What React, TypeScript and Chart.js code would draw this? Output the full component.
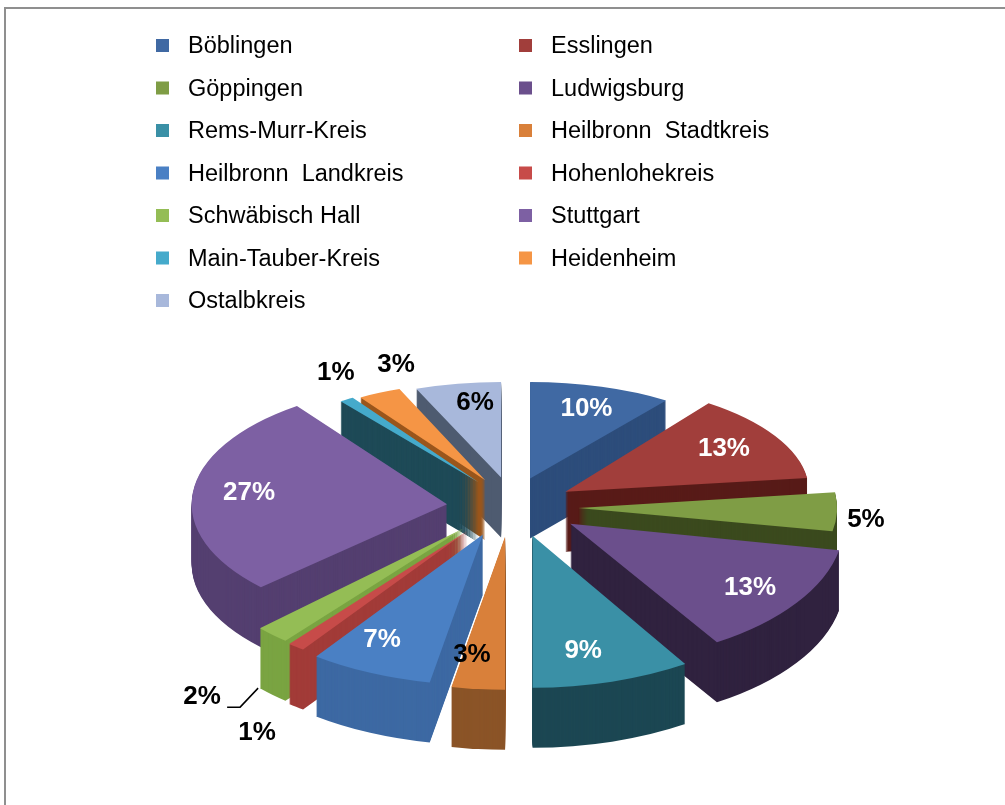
import React, { useEffect, useRef } from 'react';
import { Chart, registerables } from 'chart.js';

Chart.register(...registerables);

// ---- data ----
const categories = [
  'Böblingen',
  'Esslingen',
  'Göppingen',
  'Ludwigsburg',
  'Rems-Murr-Kreis',
  'Heilbronn  Stadtkreis',
  'Heilbronn  Landkreis',
  'Hohenlohekreis',
  'Schwäbisch Hall',
  'Stuttgart',
  'Main-Tauber-Kreis',
  'Heidenheim',
  'Ostalbkreis',
];
const shares = [10, 13, 5, 13, 9, 3, 7, 1, 2, 27, 1, 3, 6];

// ---- styles ----
const topColors = [
  '#4069A3', '#A13E3B', '#7F9D45', '#6B4F8C', '#3A90A6', '#D9803A', '#4A80C4',
  '#C74B49', '#94BD55', '#7D60A3', '#45AACB', '#F59545', '#A8B8DB',
];
const sideColors = [
  '#2D4D7B', '#581B18', '#3B4A1E', '#30223F', '#1C4753', '#8B5427', '#3D69A3',
  '#A23B38', '#7AA442', '#543F70', '#1E4A57', '#9A561C', '#4E5B70',
];
const labelColors = [
  '#FFFFFF', '#FFFFFF', '#000000', '#FFFFFF', '#FFFFFF', '#000000', '#FFFFFF',
  '#000000', '#000000', '#FFFFFF', '#000000', '#000000', '#000000',
];
const labelRadius = [0.776, 0.764, 1.115, 0.796, 0.773, 0.7745, 0.78, 1.221, 1.485, 0.782, 1.258, 1.245, 0.799];
const labelTurn = [0.3, -1.0, 2.8, 0.2, 2.9, 3.2, 3.7, 0.2, -4.1, 2.0, 5.3, 9.1, 2.65];
const labelBelow = [0, 0, 0, 0, 0, 0, 0, 1, 0, 0, 0, 0, 0];
const labelLeader = [0, 0, 0, 0, 0, 0, 0, 0, 1, 0, 0, 0, 0];

// projection of the tilted pie (front slices drawn larger to mimic perspective)
const GEO = {
  cx: 512,
  cy: 507,
  rx: 258,
  ry: 124,
  rxTilt: 28,
  ryTilt: 29,
  explodeX: 66,
  explodeTilt: 0.12,
  explodeY: 30,
  depth: 60,
};
const FONT = '"Liberation Sans", Arial, Helvetica, sans-serif';

function sliceFrame(el: any) {
  const mid = (el.startAngle + el.endAngle) / 2;
  const front = Math.sin(mid);
  return {
    mid,
    rx: GEO.rx + GEO.rxTilt * front,
    ry: GEO.ry + GEO.ryTilt * front,
    ex: GEO.cx + GEO.explodeX * (1 + GEO.explodeTilt * front) * Math.cos(mid),
    ey: GEO.cy + GEO.explodeY * front,
  };
}

const pie3d = {
  id: 'pie3d',
  beforeDatasetsDraw(chart: any) {
    const meta = chart.getDatasetMeta(0);
    const ctx: CanvasRenderingContext2D = chart.ctx;
    const arcs: any[] = meta.data;
    const frames = arcs.map(sliceFrame);
    const order = arcs.map((_, i) => i).sort((a, b) => Math.sin(frames[a].mid) - Math.sin(frames[b].mid));
    for (const i of order) {
      const el = arcs[i];
      const fr = frames[i];
      const sx = fr.rx / el.outerRadius;
      const sy = fr.ry / el.outerRadius;
      const side = Object.create(el);
      side.options = Object.assign({}, el.options, { backgroundColor: sideColors[i], borderWidth: 0 });
      for (let t = GEO.depth; t >= 1; t -= 1) {
        ctx.save();
        ctx.translate(fr.ex, fr.ey + t);
        ctx.scale(sx, sy);
        ctx.translate(-el.x, -el.y);
        side.draw(ctx);
        ctx.restore();
      }
      ctx.save();
      ctx.translate(fr.ex, fr.ey);
      ctx.scale(sx, sy);
      ctx.translate(-el.x, -el.y);
      el.draw(ctx);
      ctx.restore();
    }
    return false;
  },
  afterDraw(chart: any) {
    const ctx: CanvasRenderingContext2D = chart.ctx;
    const meta = chart.getDatasetMeta(0);
    const arcs: any[] = meta.data;
    const total = shares.reduce((a, b) => a + b, 0);

    // frame
    ctx.save();
    ctx.fillStyle = '#8F8F8F';
    ctx.fillRect(4, 7, 2, chart.height);
    ctx.fillRect(4, 7, chart.width, 2);
    ctx.restore();

    // legend
    ctx.save();
    ctx.font = `23.5px ${FONT}`;
    ctx.textBaseline = 'alphabetic';
    ctx.textAlign = 'left';
    categories.forEach((name, i) => {
      const col = i % 2;
      const row = Math.floor(i / 2);
      const x0 = 156 + col * 363;
      const yc = 45.5 + row * 42.5;
      ctx.fillStyle = topColors[i];
      ctx.fillRect(x0, yc - 6.5, 13, 13);
      ctx.fillStyle = '#000';
      ctx.fillText(name, x0 + 32, yc + 7.8);
    });
    ctx.restore();

    // data labels
    ctx.save();
    ctx.font = `bold 26px ${FONT}`;
    ctx.textAlign = 'center';
    ctx.textBaseline = 'middle';
    arcs.forEach((el, i) => {
      const fr = sliceFrame(el);
      const a = fr.mid + (labelTurn[i] * Math.PI) / 180;
      const f = labelRadius[i];
      const x = fr.ex + f * fr.rx * Math.cos(a);
      const y = fr.ey + f * fr.ry * Math.sin(a) + labelBelow[i] * GEO.depth;
      ctx.fillStyle = labelColors[i];
      ctx.fillText(`${Math.round((shares[i] / total) * 100)}%`, x, y + 1);
      if (labelLeader[i]) {
        ctx.strokeStyle = '#000';
        ctx.lineWidth = 1.5;
        ctx.beginPath();
        ctx.moveTo(x + 25, y + 11);
        ctx.lineTo(x + 38, y + 11);
        ctx.lineTo(x + 56, y - 8);
        ctx.stroke();
      }
    });
    ctx.restore();
  },
};

export default function App() {
  const ref = useRef<HTMLCanvasElement>(null);
  useEffect(() => {
    if (!ref.current) return;
    const chart = new Chart(ref.current, {
      type: 'pie',
      data: {
        labels: categories,
        datasets: [{ data: shares, backgroundColor: topColors, borderWidth: 0 }],
      },
      options: {
        responsive: false,
        animation: false,
        events: [],
        layout: { padding: 0 },
        plugins: { legend: { display: false }, tooltip: { enabled: false } },
      },
      plugins: [pie3d],
    } as any);
    return () => chart.destroy();
  }, []);
  return (
    <div style={{ position: 'fixed', left: 0, top: 0, width: 1005, height: 805, background: '#fff' }}>
      <canvas ref={ref} width={1005} height={805} style={{ display: 'block' }} />
    </div>
  );
}
